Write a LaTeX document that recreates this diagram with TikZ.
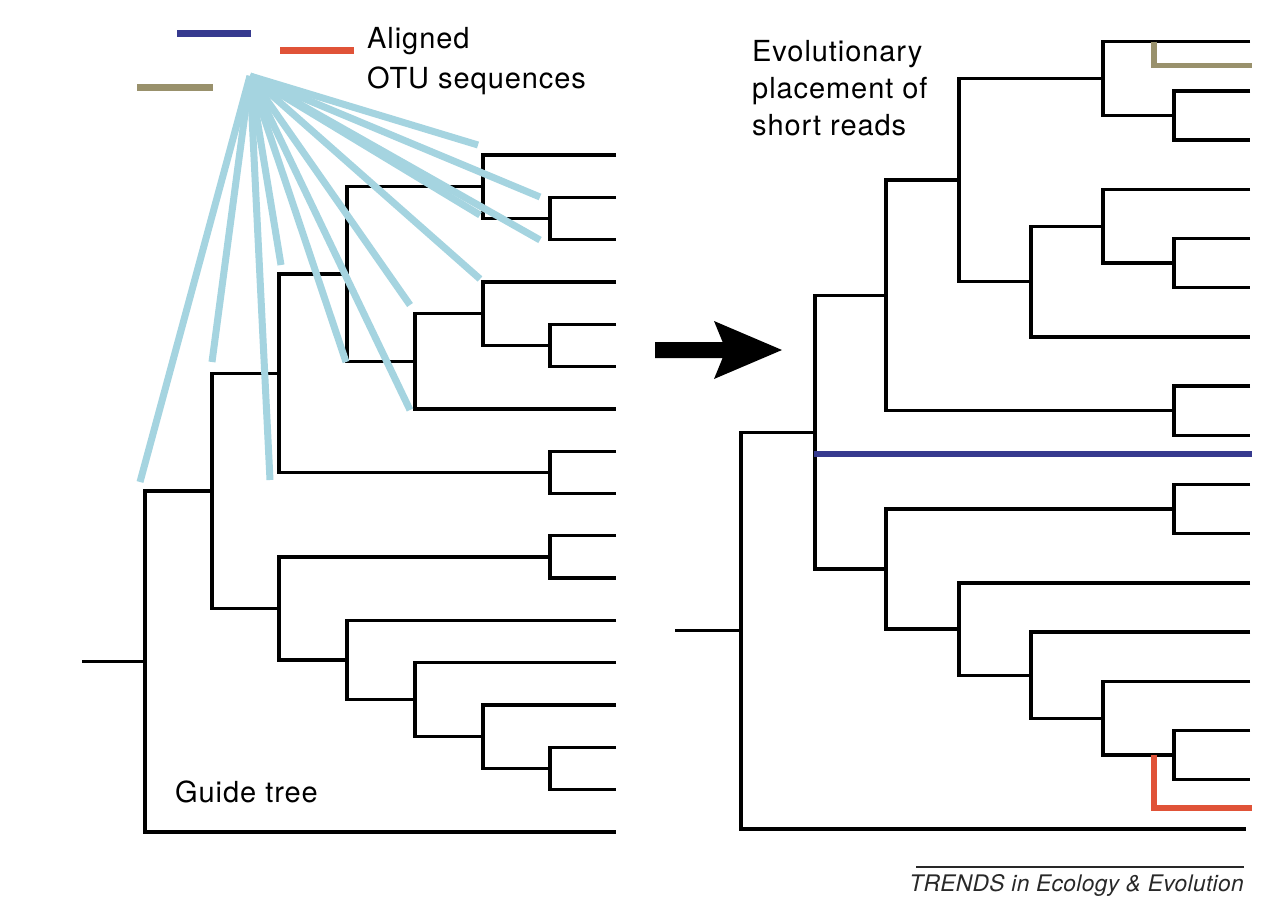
\documentclass[tikz,border=0pt]{standalone}
\usepackage{fontspec}
\setmainfont{TeX Gyre Heros}
\newfontfamily\lblfont[LetterSpace=3.2]{TeX Gyre Heros}
\newfontfamily\creditfont[LetterSpace=1.5]{TeX Gyre Heros}
\usetikzlibrary{calc}
\definecolor{fanblue}{RGB}{165,212,224}
\definecolor{readblue}{RGB}{54,58,143}
\definecolor{readred}{RGB}{224,83,56}
\definecolor{readolive}{RGB}{153,145,108}
\definecolor{trendgray}{RGB}{40,40,40}
\begin{document}
\begin{tikzpicture}[x=1pt,y=-1pt,
  br/.style={line width=3.3pt, line join=miter},
  stem/.style={line width=2.4pt},
  fan/.style={fanblue, line width=7pt},
  readline/.style={line width=5.5pt},
  lbl/.style={anchor=base west, inner sep=0pt, font=\lblfont\fontsize{29}{35}\selectfont},
  credit/.style={anchor=base east, inner sep=0pt, text=trendgray, font=\creditfont\fontsize{22.8}{27}\selectfont\itshape}]
\fill[white] (0,0) rectangle (1286,902);
\useasboundingbox (0,0) rectangle (1286,902);

% ---------- left guide tree ----------
\coordinate (LA) at (616,155);
\coordinate (LB) at (616,197.3);
\coordinate (LC) at (616,239.6);
\coordinate (LD) at (616,281.9);
\coordinate (LE) at (616,324.3);
\coordinate (LF) at (616,366.6);
\coordinate (LG) at (616,408.9);
\coordinate (LH) at (616,451.2);
\coordinate (LI) at (616,493.5);
\coordinate (LJ) at (616,535.8);
\coordinate (LK) at (616,578.1);
\coordinate (LL) at (616,620.4);
\coordinate (LM) at (616,662.8);
\coordinate (LN) at (616,705.1);
\coordinate (LO) at (616,747.4);
\coordinate (LP) at (616,789.7);
\coordinate (LQ) at (616,832);
\coordinate (Lbc) at (550,218.45);
\coordinate (Labc) at (483,186.7);
\coordinate (Lef) at (550,345.45);
\coordinate (Ldef) at (483,313.7);
\coordinate (Ldefg) at (415,361.3);
\coordinate (Lag) at (347,274.0);
\coordinate (Lhi) at (550,472.35);
\coordinate (Lup) at (279,373.2);
\coordinate (Ljk) at (550,556.95);
\coordinate (Lop) at (550,768.55);
\coordinate (Lnop) at (483,736.8);
\coordinate (Lmnop) at (415,699.8);
\coordinate (Llp) at (347,660.1);
\coordinate (Llo) at (279,608.5);
\coordinate (Ltop) at (212,490.9);
\coordinate (Lroot) at (145,661.4);
\coordinate (Lstem) at (82,661.4);

\draw[br] (LB) -| (Lbc) |- (LC);
\draw[br] (LA) -| (Labc) |- (Lbc);
\draw[br] (LE) -| (Lef) |- (LF);
\draw[br] (LD) -| (Ldef) |- (Lef);
\draw[br] (Ldef) -| (Ldefg) |- (LG);
\draw[br] (Labc) -| (Lag) |- (Ldefg);
\draw[br] (LH) -| (Lhi) |- (LI);
\draw[br] (Lag) -| (Lup) |- (Lhi);
\draw[br] (LJ) -| (Ljk) |- (LK);
\draw[br] (LO) -| (Lop) |- (LP);
\draw[br] (LN) -| (Lnop) |- (Lop);
\draw[br] (LM) -| (Lmnop) |- (Lnop);
\draw[br] (LL) -| (Llp) |- (Lmnop);
\draw[br] (Ljk) -| (Llo) |- (Llp);
\draw[br] (Lup) -| (Ltop) |- (Llo);
\draw[br] (Ltop) -| (Lroot) |- (LQ);
\draw[stem] (Lstem) -- (Lroot);

% ---------- right placement tree ----------
\coordinate (RA) at (1250,41.7);
\coordinate (RB) at (1250,90.9);
\coordinate (RC) at (1250,140.1);
\coordinate (RD) at (1250,189.3);
\coordinate (RE) at (1250,238.5);
\coordinate (RF) at (1250,287.7);
\coordinate (RG) at (1250,336.9);
\coordinate (RH) at (1250,386.1);
\coordinate (RI) at (1250,435.3);
\coordinate (RJ) at (1250,484.5);
\coordinate (RK) at (1250,533.7);
\coordinate (RL) at (1250,582.9);
\coordinate (RM) at (1250,632.1);
\coordinate (RN) at (1250,681.3);
\coordinate (RO) at (1250,730.5);
\coordinate (RP) at (1250,779.7);
\coordinate (RQ) at (1246,828.9);
\coordinate (Rbc) at (1174,115.5);
\coordinate (Rabc) at (1103,78.6);
\coordinate (Ref) at (1174,263.1);
\coordinate (Rdef) at (1103,226.2);
\coordinate (Rdefg) at (1031,281.55);
\coordinate (Rag) at (959,180.1);
\coordinate (Rhi) at (1174,410.7);
\coordinate (Rup) at (886,295.4);
\coordinate (Rjk) at (1174,509.1);
\coordinate (Rop) at (1174,755.1);
\coordinate (Rnop) at (1103,718.2);
\coordinate (Rmnop) at (1031,675.15);
\coordinate (Rlp) at (959,629.0);
\coordinate (Rlo) at (886,569.05);
\coordinate (Rtop) at (815,432.2);
\coordinate (Rroot) at (741,630.6);
\coordinate (Rstem) at (675,630.6);

\draw[br] (RB) -| (Rbc) |- (RC);
\draw[br] (RA) -| (Rabc) |- (Rbc);
\draw[br] (RE) -| (Ref) |- (RF);
\draw[br] (RD) -| (Rdef) |- (Ref);
\draw[br] (Rdef) -| (Rdefg) |- (RG);
\draw[br] (Rabc) -| (Rag) |- (Rdefg);
\draw[br] (RH) -| (Rhi) |- (RI);
\draw[br] (Rag) -| (Rup) |- (Rhi);
\draw[br] (RJ) -| (Rjk) |- (RK);
\draw[br] (RO) -| (Rop) |- (RP);
\draw[br] (RN) -| (Rnop) |- (Rop);
\draw[br] (RM) -| (Rmnop) |- (Rnop);
\draw[br] (RL) -| (Rlp) |- (Rmnop);
\draw[br] (Rjk) -| (Rlo) |- (Rlp);
\draw[br] (Rup) -| (Rtop) |- (Rlo);
\draw[br] (Rtop) -| (Rroot) |- (RQ);
\draw[stem] (Rstem) -- (Rroot);

% placed reads
\coordinate (olA) at (1154,41.7);
\coordinate (olT) at (1252,65.7);
\coordinate (blA) at (813.5,454);
\coordinate (blT) at (1252,454);
\coordinate (rdA) at (1154,755.1);
\coordinate (rdT) at (1252,808);
\draw[readline, readolive] (olA) |- (olT);
\draw[readline, readblue, line width=6pt] (blA) -- (blT);
\draw[readline, readred] (rdA) |- (rdT);

% legend bars
\draw[readblue, line width=7pt] (177,33) -- (251,33);
\draw[readred, line width=7pt] (280,50.5) -- (354,50.5);
\draw[readolive, line width=7pt] (137,87) -- (213,87);

% fan of aligned sequences
\coordinate (apex) at (250,76);
\coordinate (f1) at (140,482);
\coordinate (f2) at (212,362);
\coordinate (f3) at (270,480);
\coordinate (f4) at (281,265);
\coordinate (f5) at (346,362);
\coordinate (f6) at (410,410);
\coordinate (f7) at (410,305);
\coordinate (f8) at (480,279);
\coordinate (f9) at (480,215);
\coordinate (f10) at (540,240);
\coordinate (f11) at (540,197);
\coordinate (f12) at (478,145);
\foreach \e in {f1,f2,f3,f4,f5,f6,f7,f8,f9,f10,f11,f12}
  \draw[fan] (apex) -- (\e);

% arrow
\coordinate (ar1) at (655,342);
\coordinate (ar2) at (722.6,342);
\coordinate (ar3) at (714,321);
\coordinate (ar4) at (782,350);
\coordinate (ar5) at (714,379);
\coordinate (ar6) at (722.6,358);
\coordinate (ar7) at (655,358);
\fill[black] (ar1) -- (ar2) -- (ar3) -- (ar4) -- (ar5) -- (ar6) -- (ar7) -- cycle;

% labels
\node[lbl] (al1) at (367,48) {Aligned};
\node[lbl] (al2) at (367,88) {OTU sequences};
\node[lbl] (ev1) at (752,61) {Evolutionary};
\node[lbl] (ev2) at (752,98) {placement of};
\node[lbl] (ev3) at (752,135) {short reads};
\node[lbl] (gt) at (175,802) {Guide tree};
\coordinate (rl1) at (916,867);
\coordinate (rl2) at (1244,867);
\draw[trendgray, line width=1.5pt] (rl1) -- (rl2);
\node[credit] (tr) at (1244,891) {TRENDS in Ecology \& Evolution};
\end{tikzpicture}
\end{document}
